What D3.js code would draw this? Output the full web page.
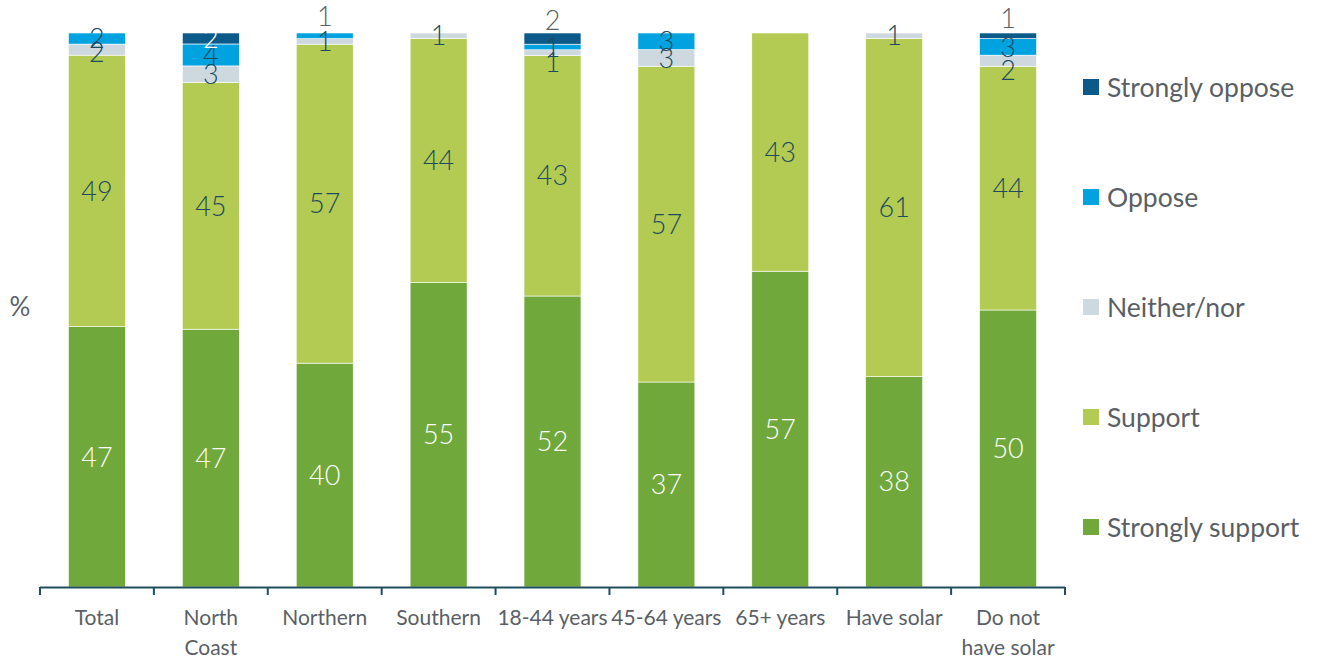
<!DOCTYPE html>
<html>
<head>
<meta charset="utf-8">
<script src="https://cdn.jsdelivr.net/npm/d3@7"></script>
<style>
  body { margin: 0; background: #fff; }
  text { font-family: Lato, "Open Sans", sans-serif; }
</style>
</head>
<body>
<svg id="chart" width="1319" height="661"></svg>
<script>
// categories along the x axis, and their wrapped tick labels
var categories = ['Total', 'North Coast', 'Northern', 'Southern', '18-44 years', '45-64 years', '65+ years', 'Have solar', 'Do not have solar'];
var tickLines = [['Total'], ['North', 'Coast'], ['Northern'], ['Southern'], ['18-44 years'], ['45-64 years'], ['65+ years'], ['Have solar'], ['Do not', 'have solar']];

// series values (%), bottom to top of each bar
var stronglySupport = [47, 47, 40, 55, 52, 37, 57, 38, 50];
var support = [49, 45, 57, 44, 43, 57, 43, 61, 44];
var neither = [2, 3, 1, 1, 1, 3, 0, 1, 2];
var oppose = [2, 4, 1, 0, 1, 3, 0, 0, 3];
var stronglyOppose = [0, 2, 0, 0, 2, 0, 0, 0, 1];

var seriesNames = ['Strongly support', 'Support', 'Neither/nor', 'Oppose', 'Strongly oppose'];
var seriesValues = [stronglySupport, support, neither, oppose, stronglyOppose];
var colors = ['#70a83b', '#b3cb52', '#cdd9df', '#00a3e0', '#0b5a8a'];
var labelColors = ['#ffffff', '#1d4a5e', '#1d4a5e', '#1d4a5e', '#ffffff'];

// labels that were moved off their segment in the original (pixels)
var labelNudge = {
  'Total|Neither/nor': 3,
  'Northern|Oppose': -20,
  '18-44 years|Strongly oppose': -18,
  '18-44 years|Neither/nor': 10,
  'Do not have solar|Strongly oppose': -17,
  'Do not have solar|Neither/nor': 10
};

var svg = d3.select('#chart');

// build table for d3.stack
var table = categories.map(function (c, i) {
  var row = { cat: c };
  seriesNames.forEach(function (s, k) { row[s] = seriesValues[k][i]; });
  return row;
});

var stack = d3.stack().keys(seriesNames).offset(d3.stackOffsetExpand);
var layers = stack(table);

var x = d3.scaleBand().domain(categories).range([40, 1065]).paddingInner(0.5).paddingOuter(0.25);
var y = d3.scaleLinear().domain([0, 1]).range([587, 33]);

// bars
var g = svg.append('g');
layers.forEach(function (layer, k) {
  g.selectAll('.s' + k)
    .data(layer)
    .enter().append('rect')
    .attr('x', function (d) { return x(d.data.cat); })
    .attr('width', x.bandwidth())
    .attr('y', function (d) { return y(d[1]); })
    .attr('height', function (d) { return y(d[0]) - y(d[1]); })
    .attr('fill', colors[k])
    .attr('stroke', '#fff')
    .attr('stroke-width', 0.6);
});

// value labels
layers.forEach(function (layer, k) {
  layer.forEach(function (d) {
    var v = d.data[seriesNames[k]];
    if (!v) return;
    var key = d.data.cat + '|' + seriesNames[k];
    var nudge = labelNudge[key] || 0;
    var cy = (y(d[0]) + y(d[1])) / 2 + nudge;
    var col = labelColors[k];
    if (nudge < -10) col = '#5a5f66';
    svg.append('text')
      .attr('x', x(d.data.cat) + x.bandwidth() / 2)
      .attr('y', cy)
      .attr('dy', '0.36em')
      .attr('text-anchor', 'middle')
      .attr('font-size', 27)
      .attr('font-weight', 300)
      .attr('fill', col)
      .text(v);
  });
});

// x axis: line plus ticks at category boundaries
var axisColor = '#1f4e5f';
svg.append('line')
  .attr('x1', 40).attr('x2', 1065)
  .attr('y1', 587.5).attr('y2', 587.5)
  .attr('stroke', axisColor).attr('stroke-width', 2);
d3.range(categories.length + 1).forEach(function (i) {
  var tx = 40 + i * x.step();
  svg.append('line')
    .attr('x1', tx).attr('x2', tx)
    .attr('y1', 587).attr('y2', 595)
    .attr('stroke', axisColor).attr('stroke-width', 2);
});

categories.forEach(function (c, i) {
  var t = svg.append('text')
    .attr('x', x(c) + x.bandwidth() / 2)
    .attr('y', 625)
    .attr('text-anchor', 'middle')
    .attr('font-size', 21)
    .attr('fill', '#5a5f66');
  tickLines[i].forEach(function (line, j) {
    t.append('tspan')
      .attr('x', x(c) + x.bandwidth() / 2)
      .attr('dy', j === 0 ? 0 : 30)
      .text(line);
  });
});

// y unit label
svg.append('text')
  .attr('x', 20).attr('y', 307)
  .attr('dy', '0.36em')
  .attr('text-anchor', 'middle')
  .attr('font-size', 26)
  .attr('fill', '#5a5f66')
  .text('%');

// legend, top item is the top segment
var legendNames = seriesNames.slice().reverse();
var legendColors = colors.slice().reverse();
var legend = svg.append('g');
legendNames.forEach(function (n, i) {
  var cy = 87 + i * 110;
  legend.append('rect')
    .attr('x', 1083).attr('y', cy - 8)
    .attr('width', 16).attr('height', 16)
    .attr('fill', legendColors[i]);
  legend.append('text')
    .attr('x', 1107).attr('y', cy)
    .attr('dy', '0.36em')
    .attr('font-size', 26.5)
    .attr('fill', '#5a5f66')
    .text(n);
});
</script>
</body>
</html>
